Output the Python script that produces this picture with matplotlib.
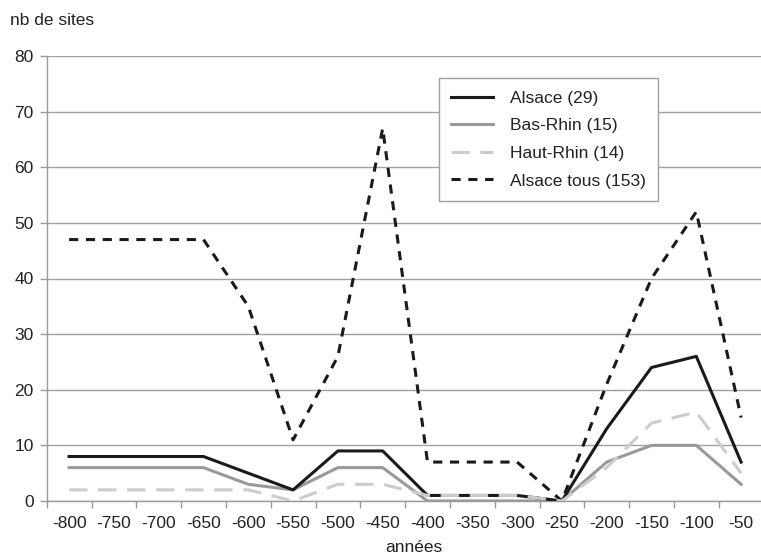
import matplotlib.pyplot as plt
import numpy as np

years = ["-800", "-750", "-700", "-650", "-600", "-550", "-500", "-450",
         "-400", "-350", "-300", "-250", "-200", "-150", "-100", "-50"]
alsace = [8, 8, 8, 8, 5, 2, 9, 9, 1, 1, 1, 0, 13, 24, 26, 7]
bas_rhin = [6, 6, 6, 6, 3, 2, 6, 6, 0, 0, 0, 0, 7, 10, 10, 3]
haut_rhin = [2, 2, 2, 2, 2, 0, 3, 3, 1, 1, 1, 0, 6, 14, 16, 5]
alsace_tous = [47, 47, 47, 47, 35, 11, 26, 67, 7, 7, 7, 0, 21, 40, 52, 15]


def main():
    plt.rcParams['font.family'] = ['Liberation Sans', 'DejaVu Sans']
    fs = 12.5

    fig = plt.figure(figsize=(7.61, 5.57), dpi=100)
    ax = fig.add_axes([46.7 / 761, 1 - 501 / 557, (763.5 - 46.7) / 761, (501 - 56) / 557])
    x = np.arange(len(years))

    ax.plot(x, alsace_tous, color="#1a1a1a", lw=2.2, dashes=(3, 2.5),
            label="Alsace tous (153)", zorder=3)
    ax.plot(x, haut_rhin, color="#cccccc", lw=2.2, dashes=(6, 3.5),
            label="Haut-Rhin (14)", zorder=4)
    ax.plot(x, bas_rhin, color="#999999", lw=2.2, label="Bas-Rhin (15)", zorder=3)
    ax.plot(x, alsace, color="#1a1a1a", lw=2.2, label="Alsace (29)", zorder=3)

    ax.set_xlim(-0.5, len(years) - 0.5)
    ax.set_ylim(0, 80)
    ax.set_yticks(range(0, 81, 10))
    ax.set_xticks(x)
    ax.set_xticklabels(years)
    ax.set_xticks(np.arange(-0.5, len(years)), minor=True)
    ax.tick_params(axis='x', which='major', length=0, pad=11, labelsize=fs, colors="#222222")
    ax.tick_params(axis='x', which='minor', length=5, width=1, color="#999999")
    ax.tick_params(axis='y', length=5, width=1, color="#999999", pad=4.5,
                   labelsize=fs, labelcolor="#222222")

    ax.grid(axis='y', color="#a0a0a0", lw=1)
    ax.set_axisbelow(True)
    for s in ["top", "right"]:
        ax.spines[s].set_visible(False)
    for s in ["left", "bottom"]:
        ax.spines[s].set_color("#999999")
        ax.spines[s].set_linewidth(1)

    h, l = ax.get_legend_handles_labels()
    order = [3, 2, 1, 0]
    leg = ax.legend([h[i] for i in order], [l[i] for i in order],
                    loc="upper left", bbox_to_anchor=(439.3 / 761, 1 - 78.3 / 557),
                    bbox_transform=fig.transFigure, borderaxespad=0,
                    fontsize=fs, handlelength=2.4, handletextpad=0.95,
                    labelspacing=0.72, borderpad=0.7, fancybox=False,
                    framealpha=1, edgecolor="#a0a0a0")
    leg.get_frame().set_linewidth(1)
    for t in leg.get_texts():
        t.set_color("#222222")

    fig.text(10 / 761, 1 - 20.5 / 557, "nb de sites", fontsize=fs, va="center",
             ha="left", color="#222222")
    fig.text(414 / 761, 1 - 548 / 557, "années", fontsize=fs, va="center",
             ha="center", color="#222222")

    fig.savefig("out.png", dpi=100)


if __name__ == "__main__":
    main()
